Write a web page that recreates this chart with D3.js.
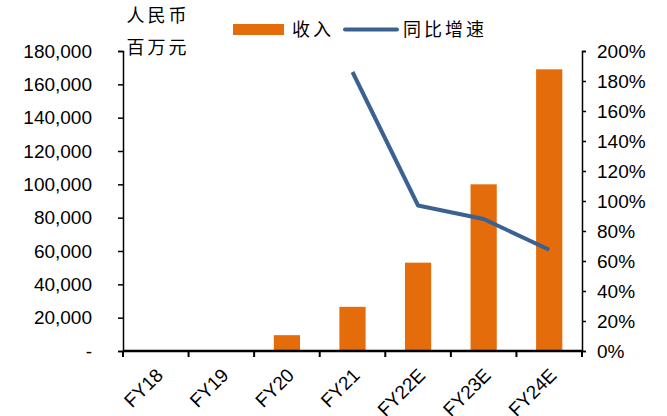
<!DOCTYPE html>
<html><head><meta charset="utf-8">
<script src="https://cdn.jsdelivr.net/npm/d3@7"></script>
<style>
body{margin:0;background:#fff;}
text{font-family:"Liberation Sans",Arial,sans-serif;fill:#000;}
.cjk{font-family:"Noto Sans CJK SC",sans-serif;}
</style></head>
<body><svg id="c" width="667" height="416"></svg>
<script>
const categories = ["FY18","FY19","FY20","FY21","FY22E","FY23E","FY24E"];
const revenue = [0, 0, 9500, 26500, 53000, 100000, 169000];
const growth = [null, null, null, 1.86, 0.97, 0.88, 0.675];
const leftTicks = [0,20000,40000,60000,80000,100000,120000,140000,160000,180000];
const rightTicks = [0,0.2,0.4,0.6,0.8,1.0,1.2,1.4,1.6,1.8,2.0];
const unitLabel = ["人民币","百万元"];
const legendLabels = ["收入","同比增速"];

const orange = "#E46C0A", blue = "#3B6192";
const svg = d3.select("#c");
const L = 123, R = 582, T = 51, B = 351;

const x = d3.scaleBand().domain(categories).range([L, R]).paddingInner(0.6).paddingOuter(0.3);
const yL = d3.scaleLinear().domain([0,180000]).range([B, T]);
const yR = d3.scaleLinear().domain([0,2]).range([B, T]);

// bars
svg.append("g").selectAll("rect").data(categories.map((c,i)=>({c, v:revenue[i]})).filter(d=>d.v>0))
  .join("rect").attr("x", d=>x(d.c)).attr("width", x.bandwidth())
  .attr("y", d=>yL(d.v)).attr("height", d=>B - yL(d.v)).attr("fill", orange);

// line
const pts = categories.map((c,i)=>({c, v:growth[i]})).filter(d=>d.v!=null);
svg.append("path").datum(pts)
  .attr("d", d3.line().x(d=>x(d.c)+x.bandwidth()/2).y(d=>yR(d.v)))
  .attr("fill","none").attr("stroke", blue).attr("stroke-width", 4).attr("stroke-linejoin","round");

// left axis
const gl = svg.append("g").attr("transform",`translate(${L},0)`)
  .call(d3.axisLeft(yL).tickValues(leftTicks).tickSize(5).tickPadding(26)
    .tickFormat(d=> d===0 ? "-" : d3.format(",")(d)));
gl.selectAll("text").style("font-size","19px");
gl.select(".domain").attr("stroke","#000").attr("stroke-width",1.5);
gl.selectAll(".tick line").attr("stroke","#000").attr("stroke-width",1.5);

// right axis
const gr = svg.append("g").attr("transform",`translate(${R},0)`)
  .call(d3.axisRight(yR).tickValues(rightTicks).tickSize(4).tickPadding(11)
    .tickFormat(d3.format(".0%")));
gr.selectAll("text").style("font-size","19px");
gr.select(".domain").attr("stroke","#000").attr("stroke-width",1.5);
gr.selectAll(".tick line").attr("stroke","#000").attr("stroke-width",1.5);

// bottom axis
const bx = svg.append("g");
bx.append("line").attr("x1",L).attr("x2",R).attr("y1",B).attr("y2",B).attr("stroke","#000").attr("stroke-width",2.5);
const bounds = d3.range(categories.length+1).map(i=>L + i*(R-L)/categories.length);
bx.selectAll("line.t").data(bounds).join("line").attr("class","t")
  .attr("x1",d=>d).attr("x2",d=>d).attr("y1",B).attr("y2",B+6).attr("stroke","#000").attr("stroke-width",2);
bx.selectAll("text").data(categories).join("text")
  .attr("transform", d=>`translate(${x(d)+x.bandwidth()/2-1},${B+16}) rotate(-45)`)
  .attr("text-anchor","end").attr("dy","0.7em").style("font-size","19px").text(d=>d);

// unit label
svg.append("text").attr("class","cjk").attr("x",158).attr("y",22).attr("text-anchor","middle")
  .style("font-size","18px").style("letter-spacing","3px").text(unitLabel[0]);
svg.append("text").attr("class","cjk").attr("x",158).attr("y",54).attr("text-anchor","middle")
  .style("font-size","18px").style("letter-spacing","3px").text(unitLabel[1]);

// legend
svg.append("rect").attr("x",233).attr("y",24).attr("width",51).attr("height",11).attr("fill",orange);
svg.append("text").attr("class","cjk").attr("x",292).attr("y",36).style("font-size","18px").style("letter-spacing","3px").text(legendLabels[0]);
svg.append("line").attr("x1",345).attr("x2",397).attr("y1",29.5).attr("y2",29.5).attr("stroke",blue).attr("stroke-width",4).attr("stroke-linecap","round");
svg.append("text").attr("class","cjk").attr("x",403).attr("y",36).style("font-size","18px").style("letter-spacing","3px").text(legendLabels[1]);
</script></body></html>
